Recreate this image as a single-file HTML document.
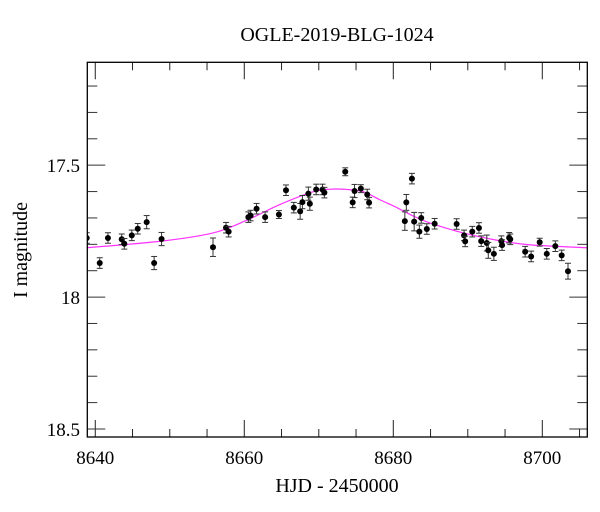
<!DOCTYPE html>
<html><head><meta charset="utf-8"><style>
html,body{margin:0;padding:0;background:#fff}
svg{display:block;font-family:"Liberation Serif",serif}
</style></head><body>
<svg id="chart" width="600" height="512" viewBox="0 0 600 512" xmlns="http://www.w3.org/2000/svg">
<text x="337" y="41" text-anchor="middle" font-size="20">OGLE-2019-BLG-1024</text>
<text x="337" y="492" text-anchor="middle" font-size="20">HJD - 2450000</text>
<text transform="translate(27,250) rotate(-90)" text-anchor="middle" font-size="20">I magnitude</text>
<g id="ticks"></g>
<g id="curve"></g>
<g id="pts"></g>
<rect x="87.3" y="62.3" width="500" height="374.7" fill="none" stroke="#000" stroke-width="1.3"/>
</svg>
<script>
const obsDays=[8638.85,8640.6,8641.7,8643.55,8643.9,8644.9,8645.7,8646.9,8647.9,8648.9,8655.8,8657.55,8657.9,8660.55,8660.85,8661.65,8662.8,8664.65,8665.6,8666.65,8667.5,8667.8,8668.6,8668.8,8669.65,8670.5,8670.75,8673.55,8674.55,8674.8,8675.65,8676.5,8676.75,8681.75,8682.5,8681.55,8682.8,8683.5,8683.75,8684.5,8685.55,8688.5,8689.5,8689.65,8690.6,8691.5,8691.8,8692.55,8692.75,8693.5,8694.5,8694.6,8695.55,8695.7,8697.7,8698.5,8699.65,8700.6,8701.75,8702.6,8703.45];
const obsMag=[17.776,17.871,17.776,17.781,17.798,17.766,17.741,17.716,17.871,17.780,17.811,17.737,17.752,17.697,17.691,17.665,17.697,17.687,17.595,17.661,17.675,17.640,17.608,17.646,17.592,17.592,17.604,17.525,17.641,17.598,17.589,17.611,17.642,17.641,17.551,17.712,17.714,17.752,17.700,17.742,17.722,17.723,17.766,17.789,17.752,17.738,17.788,17.795,17.823,17.836,17.788,17.803,17.775,17.781,17.828,17.846,17.792,17.836,17.807,17.842,17.902];
const obsErr=[0.02,0.02,0.02,0.02,0.02,0.02,0.02,0.025,0.025,0.025,0.035,0.02,0.02,0.02,0.02,0.02,0.02,0.015,0.02,0.02,0.03,0.025,0.025,0.025,0.02,0.02,0.02,0.015,0.02,0.025,0.015,0.02,0.02,0.03,0.02,0.035,0.035,0.025,0.02,0.02,0.02,0.02,0.02,0.02,0.02,0.02,0.02,0.03,0.03,0.025,0.02,0.02,0.02,0.02,0.02,0.02,0.015,0.02,0.02,0.02,0.03];
const modelDays=[8638.85,8648.9,8655.8,8660.3,8664.8,8669.2,8671.5,8673.8,8676.0,8678.2,8680.5,8682.7,8684.9,8689.4,8694.0,8698.4,8706.0];
const modelMag=[17.813,17.788,17.757,17.709,17.649,17.601,17.591,17.592,17.601,17.631,17.661,17.693,17.719,17.757,17.785,17.802,17.813];
const xMajor=[8640,8660,8680,8700];
const yMajor=[17.5,18,18.5];
const yMajorLabels=["17.5","18","18.5"];

const NS="http://www.w3.org/2000/svg";
const L=87.3,R=587.3,T=62.3,B=437;
const X0=8638.93,X1=8706.04,Y0=17.11,Y1=18.5+8/263;
const sx=d=>L+(d-X0)/(X1-X0)*(R-L);
const sy=m=>T+(m-Y0)/(Y1-Y0)*(B-T);
function mk(tag,attrs,parent){const e=document.createElementNS(NS,tag);for(const k in attrs)e.setAttribute(k,attrs[k]);parent.appendChild(e);return e;}
const tg=document.getElementById('ticks');
for(let d=8640;d<=8705;d+=5){
  const major=d%20===0, len=major?17:8, x=sx(d);
  const t1=mk('line',{x1:x,x2:x,y1:B,y2:B-len,stroke:'#222','stroke-width':1},tg);
  
  
  const t2=mk('line',{x1:x,x2:x,y1:T,y2:T+len,stroke:'#222','stroke-width':1},tg);
  
  
}
xMajor.forEach(d=>{
  const t=mk('text',{x:sx(d),y:B+27,'text-anchor':'middle','font-size':19},tg);
  t.textContent=String(d);
  
  
});
for(let i=0;i<=14;i++){
  const m=17.2+i*0.1; if(m>18.52)break;
  const major=Math.abs(m*2-Math.round(m*2))<1e-6, len=major?18:10, y=sy(m);
  const t1=mk('line',{x1:L,x2:L+len,y1:y,y2:y,stroke:'#333','stroke-width':1},tg);
  
  
  const t2=mk('line',{x1:R,x2:R-len,y1:y,y2:y,stroke:'#333','stroke-width':1},tg);
  
  
}
yMajor.forEach((m,i)=>{
  const t=mk('text',{x:80,y:sy(m)+7,'text-anchor':'end','font-size':19},tg);
  t.textContent=yMajorLabels[i];
  
  
});
const P=modelDays.map((d,i)=>[sx(d),sy(modelMag[i])]);
let dstr=`M${P[0][0]},${P[0][1]}`;
for(let i=0;i<P.length-1;i++){
  const p0=P[Math.max(0,i-1)],p1=P[i],p2=P[i+1],p3=P[Math.min(P.length-1,i+2)];
  const c1=[p1[0]+(p2[0]-p0[0])/6,p1[1]+(p2[1]-p0[1])/6];
  const c2=[p2[0]-(p3[0]-p1[0])/6,p2[1]-(p3[1]-p1[1])/6];
  dstr+=` C${c1[0]},${c1[1]} ${c2[0]},${c2[1]} ${p2[0]},${p2[1]}`;
}
const cg=document.getElementById('curve');
const path=mk('path',{d:dstr,fill:'none',stroke:'#ff33ff','stroke-width':1.2,'clip-path':'url(#clip)'},cg);


const defs=mk('defs',{},document.getElementById('chart'));
const cp=mk('clipPath',{id:'clip'},defs);
mk('rect',{x:L,y:T,width:R-L,height:B-T},cp);
const pg=document.getElementById('pts');
obsDays.forEach((d,i)=>{
  const x=sx(d),y=sy(obsMag[i]),e=obsErr[i]*(B-T)/(Y1-Y0);
  const g=mk('g',{'clip-path':'url(#clip)'},pg);
  
  
  mk('line',{x1:x,x2:x,y1:y-e,y2:y+e,stroke:'#333','stroke-width':1},g);
  mk('line',{x1:x-3,x2:x+3,y1:y-e,y2:y-e,stroke:'#333','stroke-width':1},g);
  mk('line',{x1:x-3,x2:x+3,y1:y+e,y2:y+e,stroke:'#333','stroke-width':1},g);
  mk('circle',{cx:x,cy:y,r:3,fill:'#000'},g);
});
</script>
</body></html>
